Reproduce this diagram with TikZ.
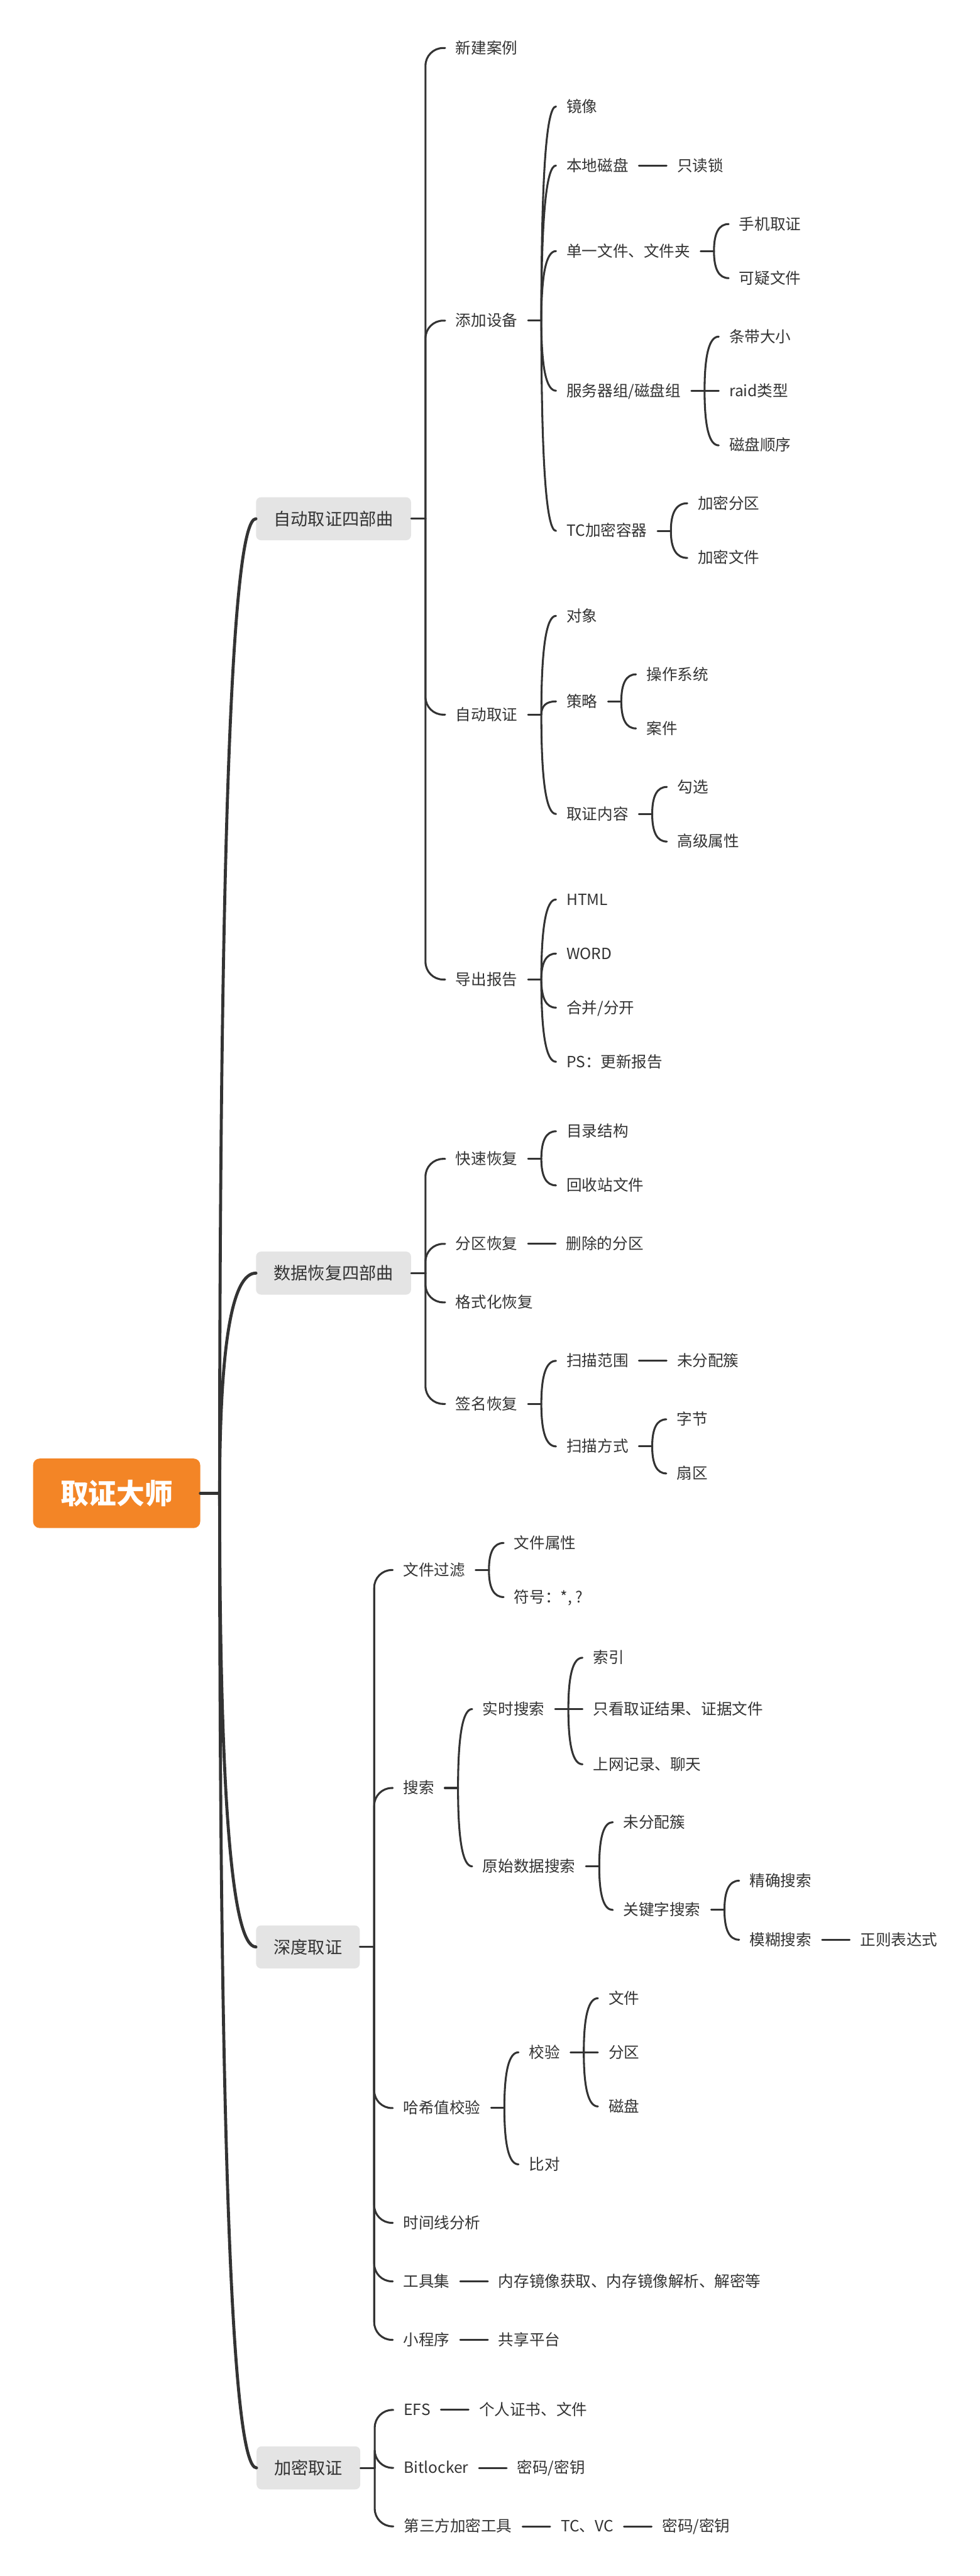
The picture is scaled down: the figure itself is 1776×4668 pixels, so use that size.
\documentclass[tikz,border=0pt]{standalone}
\usepackage{fontspec}
\setmainfont{Noto Sans CJK SC}
\usetikzlibrary{positioning,calc}
\definecolor{ink}{HTML}{333333}
\definecolor{topicgray}{HTML}{E4E4E4}
\definecolor{rootorange}{HTML}{F38526}
\tikzset{
  root/.style={fill=rootorange, rounded corners=12pt, text=white,
               font=\fontsize{51}{60}\selectfont\bfseries,
               minimum width=303pt, minimum height=126pt, inner sep=0pt},
  topic/.style={fill=topicgray, rounded corners=9pt, text=ink, anchor=west,
                font=\fontsize{31}{37}\selectfont, inner xsep=32pt,
                minimum height=78pt},
  leaf/.style={text=ink, anchor=west, font=\fontsize{28}{34}\selectfont,
               inner xsep=19pt, inner ysep=0pt, text height=24pt, text depth=4pt},
  trunk/.style={draw=ink, line width=5.5pt, line cap=round},
  link/.style={draw=ink, line width=3.5pt, line cap=round},
  elbow/.style={link, rounded corners=32pt},
  quad/.style={to path={.. controls ($(\tikztostart)!2/3!(\tikztostart|-\tikztotarget)$)
               and ($(\tikztotarget)!2/3!(\tikztostart|-\tikztotarget)$) .. (\tikztotarget)}},
}

\begin{document}
\begin{tikzpicture}[x=1pt, y=-1pt, node distance=50pt]
  \useasboundingbox (0,0) rectangle (1776,4668);
  \node[root] (master) at (211.5,2706) {取证大师};
  \draw[trunk] (master.east) -- ++(35pt,0) coordinate (master-j);

  % main topics
  \node[topic] (auto) at (464,940) {自动取证四部曲};
  \node[topic] (recover) at (464,2307) {数据恢复四部曲};
  \node[topic] (deep) at (464,3528) {深度取证};
  \node[topic] (crypt) at (465,4472) {加密取证};
  \foreach \t in {auto,recover,deep,crypt}{
    \draw[trunk] (master-j) to[quad] (\t.west);
    \draw[link] (\t.east) -- ++(26pt,0) coordinate (\t-j);
  }

  % 自动取证四部曲
  \node[leaf] (newcase) at (807,87) {新建案例};
  \node[leaf] (adddev) at (807,581) {添加设备};
  \node[leaf] (autoev) at (807,1295) {自动取证};
  \node[leaf] (report) at (807,1775) {导出报告};
  \foreach \c in {newcase,adddev,autoev,report}
    \draw[elbow] (auto-j) |- (\c.west);

  \node[leaf] (mirror) at (1008,193) {镜像};
  \node[leaf] (ldisk) at (1008,300) {本地磁盘};
  \node[leaf] (single) at (1008,455) {单一文件、文件夹};
  \node[leaf] (server) at (1008,708) {服务器组/磁盘组};
  \node[leaf] (tcbox) at (1008,962) {TC加密容器};
  \draw[link] (adddev.east) -- ++(24pt,0) coordinate (adddev-j);
  \foreach \c in {mirror,ldisk,single,server,tcbox}
    \draw[link] (adddev-j) to[quad] (\c.west);
  \node[leaf, right=of ldisk] (rolock) {只读锁};
  \draw[link] (ldisk) -- (rolock);

  \node[leaf] (phone) at (1321,406) {手机取证};
  \node[leaf] (suspect) at (1321,504) {可疑文件};
  \draw[link] (single.east) -- ++(24pt,0) coordinate (single-j);
  \foreach \c in {phone,suspect}
    \draw[link] (single-j) to[quad] (\c.west);

  \node[leaf] (stripe) at (1303,610) {条带大小};
  \node[leaf] (raidtype) at (1303,708) {raid类型};
  \node[leaf] (diskorder) at (1303,807) {磁盘顺序};
  \draw[link] (server.east) -- ++(24pt,0) coordinate (server-j);
  \foreach \c in {stripe,raidtype,diskorder}
    \draw[link] (server-j) to[quad] (\c.west);

  \node[leaf] (encpart) at (1246,912) {加密分区};
  \node[leaf] (encfile) at (1246,1011) {加密文件};
  \draw[link] (tcbox.east) -- ++(24pt,0) coordinate (tcbox-j);
  \foreach \c in {encpart,encfile}
    \draw[link] (tcbox-j) to[quad] (\c.west);

  \node[leaf] (object) at (1008,1116) {对象};
  \node[leaf] (policy) at (1008,1271) {策略};
  \node[leaf] (content) at (1008,1475) {取证内容};
  \draw[link] (autoev.east) -- ++(24pt,0) coordinate (autoev-j);
  \foreach \c in {object,policy,content}
    \draw[link] (autoev-j) to[quad] (\c.west);

  \node[leaf] (os) at (1153,1222) {操作系统};
  \node[leaf] (case) at (1153,1320) {案件};
  \draw[link] (policy.east) -- ++(24pt,0) coordinate (policy-j);
  \foreach \c in {os,case}
    \draw[link] (policy-j) to[quad] (\c.west);

  \node[leaf] (tick) at (1209,1426) {勾选};
  \node[leaf] (advattr) at (1209,1525) {高级属性};
  \draw[link] (content.east) -- ++(24pt,0) coordinate (content-j);
  \foreach \c in {tick,advattr}
    \draw[link] (content-j) to[quad] (\c.west);

  \node[leaf] (html) at (1008,1630) {HTML};
  \node[leaf] (word) at (1008,1728) {WORD};
  \node[leaf] (merge) at (1008,1826) {合并/分开};
  \node[leaf] (psnote) at (1008,1924) {PS：更新报告};
  \draw[link] (report.east) -- ++(24pt,0) coordinate (report-j);
  \foreach \c in {html,word,merge,psnote}
    \draw[link] (report-j) to[quad] (\c.west);

  % 数据恢复四部曲
  \node[leaf] (quick) at (807,2100) {快速恢复};
  \node[leaf] (partrec) at (807,2254) {分区恢复};
  \node[leaf] (format) at (807,2360) {格式化恢复};
  \node[leaf] (sigrec) at (807,2544) {签名恢复};
  \foreach \c in {quick,partrec,format,sigrec}
    \draw[elbow] (recover-j) |- (\c.west);

  \node[leaf] (dirtree) at (1008,2050) {目录结构};
  \node[leaf] (bin) at (1008,2148) {回收站文件};
  \draw[link] (quick.east) -- ++(24pt,0) coordinate (quick-j);
  \foreach \c in {dirtree,bin}
    \draw[link] (quick-j) to[quad] (\c.west);
  \node[leaf, right=of partrec] (delpart) {删除的分区};
  \draw[link] (partrec) -- (delpart);

  \node[leaf] (scope) at (1008,2466) {扫描范围};
  \node[leaf] (mode) at (1008,2621) {扫描方式};
  \draw[link] (sigrec.east) -- ++(24pt,0) coordinate (sigrec-j);
  \foreach \c in {scope,mode}
    \draw[link] (sigrec-j) to[quad] (\c.west);
  \node[leaf, right=of scope] (unalloc) {未分配簇};
  \draw[link] (scope) -- (unalloc);

  \node[leaf] (byte) at (1208,2572) {字节};
  \node[leaf] (sector) at (1208,2670) {扇区};
  \draw[link] (mode.east) -- ++(24pt,0) coordinate (mode-j);
  \foreach \c in {byte,sector}
    \draw[link] (mode-j) to[quad] (\c.west);

  % 深度取证
  \node[leaf] (filter) at (712,2845) {文件过滤};
  \node[leaf] (search) at (712,3240) {搜索};
  \node[leaf] (hash) at (712,3820) {哈希值校验};
  \node[leaf] (timeline) at (712,4028) {时间线分析};
  \node[leaf] (tools) at (712,4134) {工具集};
  \node[leaf] (applet) at (712,4240) {小程序};
  \foreach \c in {filter,search,hash,timeline,tools,applet}
    \draw[elbow] (deep-j) |- (\c.west);

  \node[leaf] (fattr) at (913,2796) {文件属性};
  \node[leaf] (symbol) at (913,2894) {符号：*, ?};
  \draw[link] (filter.east) -- ++(24pt,0) coordinate (filter-j);
  \foreach \c in {fattr,symbol}
    \draw[link] (filter-j) to[quad] (\c.west);

  \node[leaf] (live) at (856,3097) {实时搜索};
  \node[leaf] (raw) at (856,3382) {原始数据搜索};
  \draw[link] (search.east) -- ++(24pt,0) coordinate (search-j);
  \foreach \c in {live,raw}
    \draw[link] (search-j) to[quad] (\c.west);

  \node[leaf] (index) at (1056,3004) {索引};
  \node[leaf] (result) at (1056,3097) {只看取证结果、证据文件};
  \node[leaf] (web) at (1056,3197) {上网记录、聊天};
  \draw[link] (live.east) -- ++(24pt,0) coordinate (live-j);
  \foreach \c in {index,result,web}
    \draw[link] (live-j) to[quad] (\c.west);

  \node[leaf] (rawfree) at (1111,3302) {未分配簇};
  \node[leaf] (keyword) at (1111,3461) {关键字搜索};
  \draw[link] (raw.east) -- ++(24pt,0) coordinate (raw-j);
  \foreach \c in {rawfree,keyword}
    \draw[link] (raw-j) to[quad] (\c.west);

  \node[leaf] (exact) at (1340,3408) {精确搜索};
  \node[leaf] (fuzzy) at (1340,3515) {模糊搜索};
  \draw[link] (keyword.east) -- ++(24pt,0) coordinate (keyword-j);
  \foreach \c in {exact,fuzzy}
    \draw[link] (keyword-j) to[quad] (\c.west);
  \node[leaf, right=of fuzzy] (regex) {正则表达式};
  \draw[link] (fuzzy) -- (regex);

  \node[leaf] (verify) at (940,3719) {校验};
  \node[leaf] (compare) at (940,3922) {比对};
  \draw[link] (hash.east) -- ++(24pt,0) coordinate (hash-j);
  \foreach \c in {verify,compare}
    \draw[link] (hash-j) to[quad] (\c.west);

  \node[leaf] (vfile) at (1084,3621) {文件};
  \node[leaf] (vpart) at (1084,3719) {分区};
  \node[leaf] (vdisk) at (1084,3817) {磁盘};
  \draw[link] (verify.east) -- ++(24pt,0) coordinate (verify-j);
  \foreach \c in {vfile,vpart,vdisk}
    \draw[link] (verify-j) to[quad] (\c.west);

  \node[leaf, right=of tools] (memtool) {内存镜像获取、内存镜像解析、解密等};
  \draw[link] (tools) -- (memtool);
  \node[leaf, right=of applet] (share) {共享平台};
  \draw[link] (applet) -- (share);

  % 加密取证
  \node[leaf] (efs) at (713,4367) {EFS};
  \node[leaf] (bitlocker) at (713,4472) {Bitlocker};
  \node[leaf] (third) at (713,4578) {第三方加密工具};
  \foreach \c in {efs,bitlocker,third}
    \draw[elbow] (crypt-j) |- (\c.west);
  \node[leaf, right=of efs] (cert) {个人证书、文件};
  \draw[link] (efs) -- (cert);
  \node[leaf, right=of bitlocker] (bkey) {密码/密钥};
  \draw[link] (bitlocker) -- (bkey);
  \node[leaf, right=of third] (tcvc) {TC、VC};
  \draw[link] (third) -- (tcvc);
  \node[leaf, right=of tcvc] (tkey) {密码/密钥};
  \draw[link] (tcvc) -- (tkey);
\end{tikzpicture}
\end{document}
